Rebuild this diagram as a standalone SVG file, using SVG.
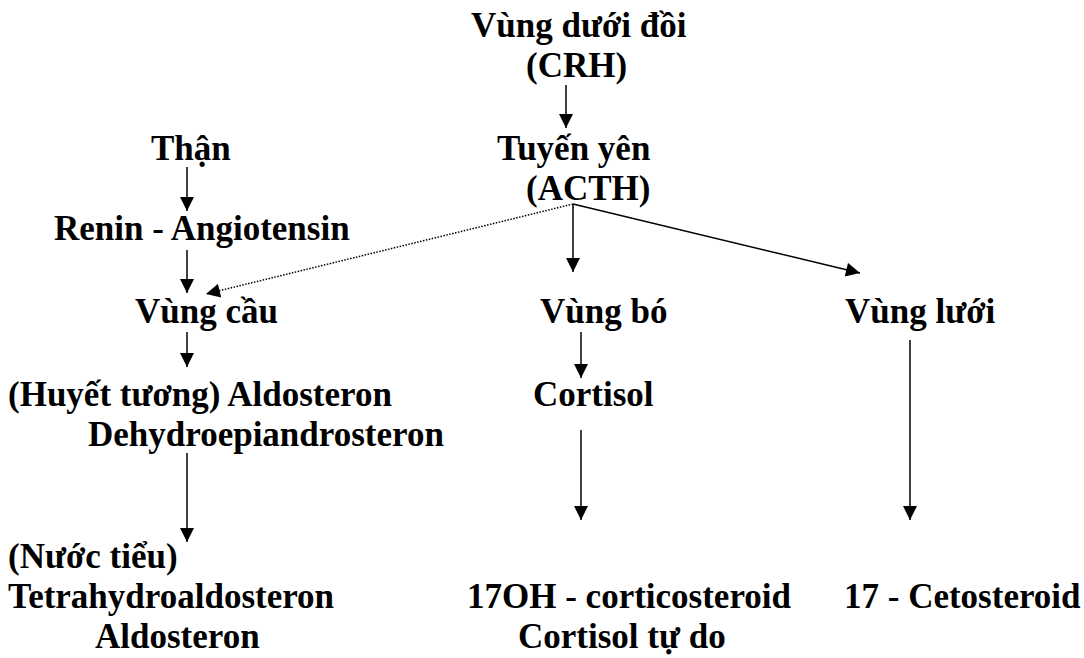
<svg xmlns="http://www.w3.org/2000/svg" width="1084" height="658" viewBox="0 0 1084 658">
<defs>
<style>
text{font-family:"Liberation Serif","Times New Roman",serif;font-weight:bold;font-size:35px;fill:#000}
.c line{stroke:#000;stroke-width:1.5;fill:none}
.c .dot{stroke-width:1.5;stroke-dasharray:1.5 1.5}
</style>
<marker id="ahb" viewBox="0 0 10 10" refX="10" refY="5" markerWidth="16" markerHeight="14" markerUnits="userSpaceOnUse" orient="auto">
<path d="M0,0 L10,5 L0,10 z" fill="#000"/>
</marker>
</defs>
<rect width="1084" height="658" fill="#fff"/>
<g id="n-hypothalamus"><text x="471" y="37">Vùng dưới đồi</text><text x="526" y="77">(CRH)</text></g>
<g id="n-pituitary"><text x="497" y="160">Tuyến yên</text><text x="526" y="200">(ACTH)</text></g>
<g id="n-kidney"><text x="151" y="160">Thận</text></g>
<g id="n-renin"><text x="54" y="240">Renin - Angiotensin</text></g>
<g id="n-cau"><text x="135" y="323">Vùng cầu</text></g>
<g id="n-bo"><text x="540" y="323">Vùng bó</text></g>
<g id="n-luoi"><text x="845" y="323">Vùng lưới</text></g>
<g id="n-plasma"><text x="8" y="406">(Huyết tương) Aldosteron</text><text x="88" y="446">Dehydroepiandrosteron</text></g>
<g id="n-cortisol"><text x="533" y="406">Cortisol</text></g>
<g id="n-urine"><text x="8" y="568">(Nước tiểu)</text><text x="8" y="608">Tetrahydroaldosteron</text><text x="95" y="648">Aldosteron</text></g>
<g id="n-17oh"><text x="467" y="608">17OH - corticosteroid</text><text x="518" y="648">Cortisol tự do</text></g>
<g id="n-17keto"><text x="844" y="608">17 - Cetosteroid</text></g>
<g id="connectors" class="c">
<line x1="566" y1="85" x2="566" y2="128" marker-end="url(#ahb)"/>
<line x1="187" y1="167" x2="187" y2="211" marker-end="url(#ahb)"/>
<line x1="187" y1="250" x2="187" y2="293" marker-end="url(#ahb)"/>
<line x1="573" y1="204" x2="206" y2="294" class="dot" marker-end="url(#ahb)"/>
<line x1="573" y1="204" x2="573" y2="272" marker-end="url(#ahb)"/>
<line x1="573" y1="204" x2="860" y2="273" marker-end="url(#ahb)"/>
<line x1="187" y1="332" x2="187" y2="367" marker-end="url(#ahb)"/>
<line x1="581" y1="332" x2="581" y2="378" marker-end="url(#ahb)"/>
<line x1="187" y1="453" x2="187" y2="542" marker-end="url(#ahb)"/>
<line x1="581" y1="430" x2="581" y2="520" marker-end="url(#ahb)"/>
<line x1="910" y1="340" x2="910" y2="520" marker-end="url(#ahb)"/>
</g>
</svg>
